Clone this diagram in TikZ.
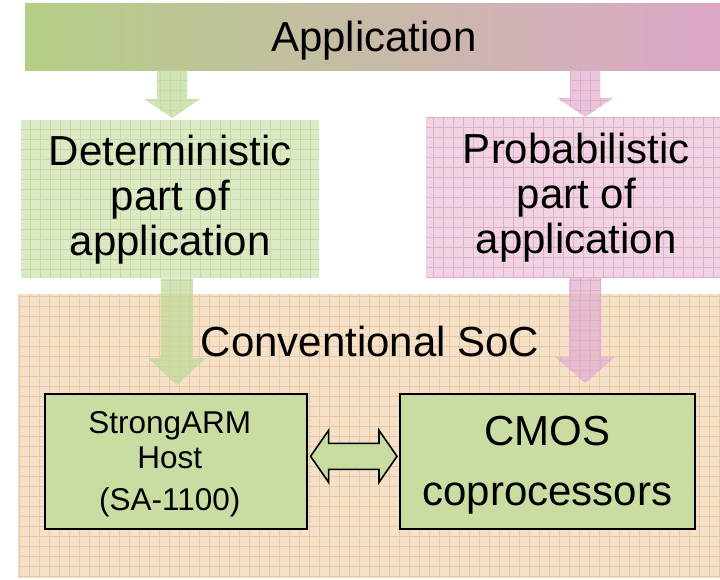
\documentclass[tikz,border=0pt]{standalone}
\usepackage{fontspec}
\setmainfont{Liberation Sans}
\usetikzlibrary{calc}

\definecolor{appgreen}{HTML}{B3CF85}
\definecolor{apppink}{HTML}{DCA6C8}
\definecolor{detfill}{HTML}{DCE9C5}
\definecolor{detgrid}{HTML}{C6DBA3}
\definecolor{probfill}{HTML}{F0D4E4}
\definecolor{probgrid}{HTML}{E2ACCB}
\definecolor{socfill}{HTML}{F5E1C9}
\definecolor{socgrid}{HTML}{EBC99F}
\definecolor{blockfill}{HTML}{C9DCA2}
\definecolor{arrgreen}{HTML}{C3DA9C}
\definecolor{arrpink}{HTML}{E2B2D0}

% vertical block arrow: style, start, end, shaft half width, head half width, head length
\newcommand\blockdown[6]{%
  \path[#1] let \p1=(#2), \p2=(#3) in
    (\x1-#4,\y1) -- (\x1+#4,\y1) -- (\x1+#4,\y2+#6) -- (\x1+#5,\y2+#6)
    -- (\x1,\y2) -- (\x1-#5,\y2+#6) -- (\x1-#4,\y2+#6) -- cycle;}

\begin{document}
\begin{tikzpicture}[x=1pt,y=-1pt,
  gridded/.style={path picture={\draw[#1,line width=0.5pt]
      (path picture bounding box.south west) grid[step=10pt]
      (path picture bounding box.north east);}},
  panel/.style={rectangle,inner sep=0pt,anchor=north west},
  bigtext/.style={font=\fontsize{42}{45}\selectfont,align=center,inner sep=0pt},
  hosttext/.style={font=\fontsize{31.5}{35}\selectfont,align=center,inner sep=0pt},
  chip/.style={rectangle,draw=black,line width=1.6pt,fill=blockfill,
      inner sep=0pt,anchor=north west},
  greenarrow/.style={fill=arrgreen,fill opacity=0.75,gridded=detgrid},
  pinkarrow/.style={fill=arrpink,fill opacity=0.75,gridded=probgrid},
  linkarrow/.style={draw=black,line width=1.6pt,fill=blockfill,line join=miter},
]
\useasboundingbox (0,0) rectangle (720,580);

% top bar
\node[panel,minimum width=695pt,minimum height=67pt,
      left color=appgreen,right color=apppink] (app) at (25,3) {};
\node[bigtext] (apptxt) at (374,41) {Application};

% the two halves of the application
\node[panel,minimum width=298pt,minimum height=158pt,fill=detfill,
      gridded=detgrid] (det) at (21,120) {};
\node[bigtext] (dettxt) at (det.center) {Deterministic\\part of\\application};
\node[panel,minimum width=294pt,minimum height=160pt,fill=probfill,
      gridded=probgrid] (prob) at (426,117) {};
\node[bigtext] (probtxt) at ($(prob.center)+(3,0)$) {Probabilistic\\part of\\application};

% SoC area
\node[panel,minimum width=702pt,minimum height=284pt,fill=socfill,
      gridded=socgrid] (soc) at (18,294) {};
\node[bigtext] (soctxt) at (370,341) {Conventional SoC};

% processing blocks
\node[chip,minimum width=262pt,minimum height=135pt] (host) at (44,393) {};
\node[hosttext] (hosttxt) at ($(host.center)+(-6,3)$) {StrongARM\\Host\\[7pt](SA-1100)};
\node[chip,minimum width=295pt,minimum height=135pt] (cmos) at (399,393) {};
\node[font=\fontsize{42}{60}\selectfont,align=center,inner sep=0pt]
      (cmostxt) at ($(cmos.center)+(0,4)$) {CMOS\\coprocessors};

% application to its parts
\blockdown{greenarrow}{$(det.north|-app.south)+(2,0)$}{$(det.north)+(2,-2)$}{15pt}{28pt}{19pt}
\blockdown{pinkarrow}{$(prob.north|-app.south)+(12,0)$}{$(prob.north)+(12,0)$}{15pt}{28pt}{19pt}

% parts to the hardware
\blockdown{greenarrow}{$(det.south-|host.north)+(1,0)$}{$(host.north)+(1,-8)$}{16pt}{29pt}{27pt}
\blockdown{pinkarrow}{$(prob.south)+(12,0)$}{$(prob.south|-cmos.north)+(12,-10)$}{16pt}{30pt}{26pt}

% link between host and coprocessors
\path[linkarrow] let \p1=(host.east), \p2=(cmos.west) in
  (\x1+3pt,\y1+5pt) -- (\x1+21pt,\y1+31pt) -- (\x1+21pt,\y1+18pt)
  -- (\x2-20pt,\y1+18pt) -- (\x2-20pt,\y1+31pt) -- (\x2-2pt,\y1+5pt)
  -- (\x2-20pt,\y1-21pt) -- (\x2-20pt,\y1-8pt) -- (\x1+21pt,\y1-8pt)
  -- (\x1+21pt,\y1-21pt) -- cycle;
\end{tikzpicture}
\end{document}
